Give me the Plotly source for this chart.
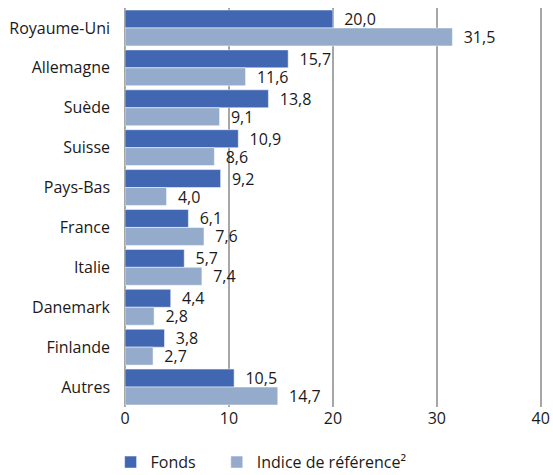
import plotly.graph_objects as go

categories = ["Royaume-Uni", "Allemagne", "Suède", "Suisse", "Pays-Bas", "France",
              "Italie", "Danemark", "Finlande", "Autres"]
fonds = [20.0, 15.7, 13.8, 10.9, 9.2, 6.1, 5.7, 4.4, 3.8, 10.5]
indice = [31.5, 11.6, 9.1, 8.6, 4.0, 7.6, 7.4, 2.8, 2.7, 14.7]
tick_vals = [0, 10, 20, 30, 40]

font = dict(family="Open Sans, Noto Sans, sans-serif", size=16, color="#1a1a1a")

fig = go.Figure()
fig.add_trace(go.Bar(y=categories, x=fonds, name="Fonds", orientation="h",
                     marker=dict(color="#4267B2", line=dict(color="white", width=0.5)),
                     text=fonds, texttemplate="\u00a0\u00a0%{x:.1f}", textposition="outside",
                     textfont=font, cliponaxis=False, legend="legend"))
fig.add_trace(go.Bar(y=categories, x=indice, name="Indice de référence²", orientation="h",
                     marker=dict(color="#95ABCC", line=dict(color="white", width=0.5)),
                     text=indice, texttemplate="\u00a0\u00a0%{x:.1f}", textposition="outside",
                     textfont=font, cliponaxis=False, legend="legend2"))

leg_common = dict(orientation="h", xref="container", yref="container",
                  xanchor="left", y=0.027, yanchor="middle",
                  font=font, itemwidth=30, bgcolor="rgba(0,0,0,0)")

fig.update_layout(
    width=553, height=475,
    margin=dict(l=125, r=11, t=8, b=68, autoexpand=False),
    barmode="group", bargap=0.1, bargroupgap=0,
    separators=", ",
    plot_bgcolor="white", paper_bgcolor="white",
    font=font,
    showlegend=True,
    legend=dict(x=0.2, **leg_common),
    legend2=dict(x=0.392, **leg_common),
    uniformtext=dict(minsize=16, mode="show"),
)
fig.update_xaxes(range=[0, 40.12], tickvals=tick_vals, ticktext=[str(v) for v in tick_vals],
                 showgrid=True, gridcolor="#a6a6a6", gridwidth=1.5,
                 zeroline=True, zerolinecolor="#a6a6a6", zerolinewidth=1.5,
                 showline=False, ticks="", tickfont=font, automargin=False)
fig.update_yaxes(autorange="reversed", showgrid=False, ticks="", tickfont=font,
                 ticklabelstandoff=14, showline=False, automargin=False)

fig.write_html("out.html", config={"displayModeBar": False},
               post_script="document.body.style.margin='0';document.body.style.overflow='hidden';")
